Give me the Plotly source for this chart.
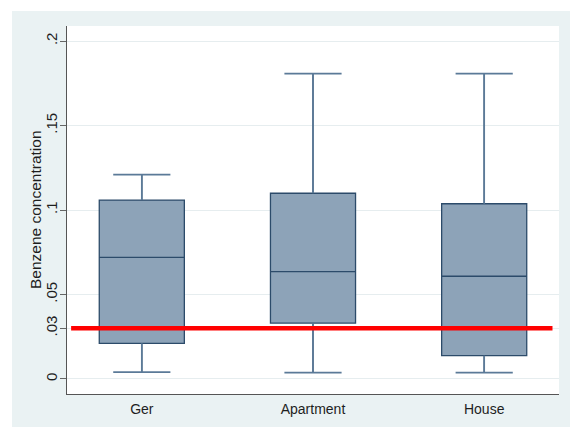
import plotly.graph_objects as go

# Benzene concentration summaries by dwelling type
categories = ["Ger", "Apartment", "House"]
lower_adj = [0.0040, 0.0037, 0.0037]
q1_vals = [0.0211, 0.0331, 0.0138]
medians = [0.0720, 0.0635, 0.0608]
q3_vals = [0.1059, 0.1099, 0.1037]
upper_adj = [0.1209, 0.1807, 0.1807]

# Reference level
threshold = 0.03

y_tickvals = [0, 0.03, 0.05, 0.1, 0.15, 0.2]
y_ticktext = ["0", ".03", ".05", ".1", ".15", ".2"]
y_title = "Benzene concentration"

positions = list(range(len(categories)))
BOX_W = 0.497
CAP_HALF = 0.167

FILL = "#8DA3B8"
EDGE = "#2C4B6A"
WHISK = "#5B7A98"
OUTER = "#EAF2F3"
FONT = "Liberation Sans, Arial, sans-serif"
TXT = "#1E1E1E"

fig = go.Figure()

for i, c in enumerate(categories):
    fig.add_trace(go.Box(
        x=[positions[i]], q1=[q1_vals[i]], median=[medians[i]], q3=[q3_vals[i]],
        lowerfence=[lower_adj[i]], upperfence=[upper_adj[i]],
        width=BOX_W, whiskerwidth=0, fillcolor=FILL,
        line=dict(color=EDGE, width=1.3), boxpoints=False,
        showlegend=False, hoverinfo="skip", name=c,
    ))

# whiskers and caps
for i in positions:
    for lo, hi in ((lower_adj[i], q1_vals[i]), (q3_vals[i], upper_adj[i])):
        fig.add_trace(go.Scatter(
            x=[i, i], y=[lo, hi], mode="lines",
            line=dict(color=WHISK, width=1.7), showlegend=False, hoverinfo="skip"))
    for v in (lower_adj[i], upper_adj[i]):
        fig.add_trace(go.Scatter(
            x=[i - CAP_HALF, i + CAP_HALF], y=[v, v], mode="lines",
            line=dict(color=WHISK, width=1.7), showlegend=False, hoverinfo="skip"))

# reference line
fig.add_trace(go.Scatter(
    x=[-0.413, 2.399], y=[threshold, threshold], mode="lines",
    line=dict(color="#FF0000", width=4.6), showlegend=False, hoverinfo="skip"))

W, H = 570, 427
L, R, T, B = 67, 11, 26, 33
pw, ph = W - L - R, H - T - B

# white page strips around the tinted graph region
left_edge = (12 - L) / pw
top_edge = (H - B - 11) / ph
shapes = [
    dict(type="rect", xref="paper", yref="paper", x0=-0.5, x1=1.5,
         y0=top_edge, y1=1.5, fillcolor="white", line=dict(width=0), layer="below"),
    dict(type="rect", xref="paper", yref="paper", x0=-0.5, x1=left_edge,
         y0=-0.5, y1=1.5, fillcolor="white", line=dict(width=0), layer="below"),
]

fig.add_annotation(
    text=y_title, xref="paper", yref="paper", x=(35 - L) / pw, y=0.5,
    xanchor="center", yanchor="middle", textangle=-90, showarrow=False,
    font=dict(size=15.5, family=FONT, color=TXT),
)

fig.update_layout(
    width=W, height=H,
    margin=dict(l=L, r=R, t=T, b=B, pad=0),
    paper_bgcolor=OUTER, plot_bgcolor="white",
    font=dict(family=FONT, size=14, color=TXT),
    shapes=shapes,
    xaxis=dict(
        range=[-0.437, 2.437], tickmode="array", tickvals=positions, ticktext=categories,
        showgrid=False, zeroline=False, showline=True, linecolor="#555", linewidth=1.2,
        ticks="", ticklabelstandoff=2, tickfont=dict(size=14, family=FONT, color=TXT),
    ),
    yaxis=dict(
        range=[-0.0089, 0.2089], tickmode="array", tickvals=y_tickvals, ticktext=y_ticktext,
        tickangle=-90, showgrid=True, gridcolor="#E6EDEF", gridwidth=1, zeroline=False,
        showline=True, linecolor="#555", linewidth=1.2,
        ticks="outside", ticklen=6, tickcolor="#666", tickwidth=1,
        ticklabelstandoff=-3,
        tickfont=dict(size=15, family=FONT, color=TXT),
    ),
)

fig.write_html("out.html")
